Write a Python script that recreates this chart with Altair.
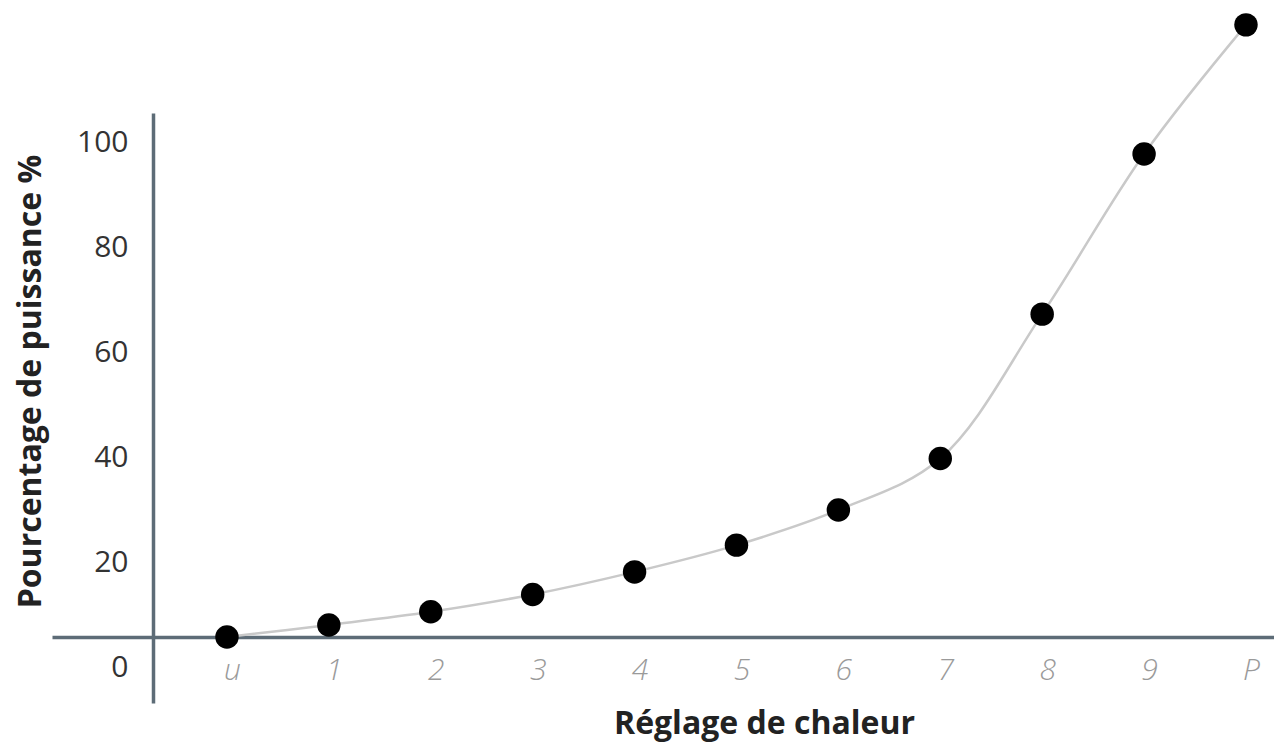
import altair as alt
import pandas as pd

levels = ["u", "1", "2", "3", "4", "5", "6", "7", "8", "9", "P"]
power = [5.9, 8.2, 10.7, 14.0, 18.3, 23.4, 30.1, 39.9, 67.4, 97.9, 122.5]
y_ticks = [0, 20, 40, 60, 80, 100]

df = pd.DataFrame({"idx": list(range(len(levels))), "level": levels, "power": power})

label_expr = "[" + ",".join("'" + s + "'" for s in levels) + "][datum.value]"

x_enc = alt.X(
    "idx:Q",
    scale=alt.Scale(domain=[-1.717, 10.275], nice=False, zero=False),
    axis=alt.Axis(
        title="Réglage de chaleur",
        values=list(range(len(levels))),
        labelExpr=label_expr,
        orient="bottom",
        offset=-66,
        grid=False,
        ticks=False,
        tickSize=0,
        domainColor="#5d6c77",
        domainWidth=3.5,
        labelFont="Open Sans",
        labelFontSize=30,
        labelFontStyle="italic",
        labelFontWeight=300,
        labelColor="#9a9a9a",
        labelPadding=18,
        labelOffset=5,
        labelFlush=False,
        labelOverlap=False,
        titleFont="Open Sans",
        titleFontSize=32,
        titleFontWeight="bold",
        titleColor="#222222",
        titleX=712,
        titleY=96,
        titleBaseline="alphabetic",
        titleAlign="center",
    ),
)

y_enc = alt.Y(
    "power:Q",
    scale=alt.Scale(domain=[-6.67, 105.71], nice=False, zero=False),
    axis=alt.Axis(
        title="Pourcentage de puissance %",
        values=y_ticks,
        orient="left",
        offset=-101,
        grid=False,
        ticks=False,
        tickSize=0,
        domainColor="#5d6c77",
        domainWidth=3.5,
        labelFont="Open Sans",
        labelFontSize=30,
        labelColor="#333333",
        labelPadding=25,
        labelFlush=False,
        labelOverlap=False,
        titleFont="Open Sans",
        titleFontSize=32,
        titleFontWeight="bold",
        titleColor="#222222",
        titleX=-113,
        titleY=268,
        titleBaseline="alphabetic",
        titleAlign="center",
        titleAngle=270,
    ),
)

line = alt.Chart(df).mark_line(
    interpolate="catmull-rom", color="#c9c9c9", strokeWidth=2.5, clip=False
).encode(x=x_enc, y=y_enc)

points = alt.Chart(df).mark_circle(
    size=550, color="#000000", opacity=1, clip=False
).encode(x="idx:Q", y="power:Q")

chart = (
    alt.layer(line, points)
    .properties(
        width=1222,
        height=590,
        autosize=alt.AutoSizeParams(type="none"),
        padding={"left": 44, "top": 105, "right": 0, "bottom": 42},
        background="white",
    )
    .configure_view(stroke=None)
)

chart.save("out.html", embed_options={"renderer": "svg", "actions": False})
